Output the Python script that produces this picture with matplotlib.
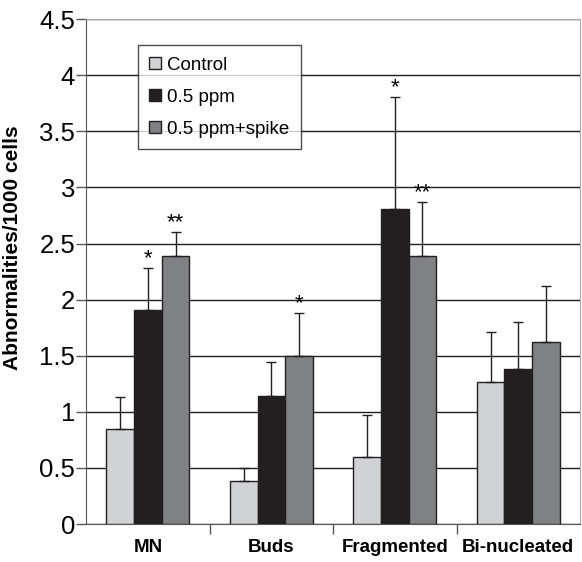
import numpy as np
import matplotlib.pyplot as plt

plt.rcParams['font.family'] = ['Liberation Sans', 'DejaVu Sans']

categories = ['MN', 'Buds', 'Fragmented', 'Bi-nucleated']
series = ['Control', '0.5 ppm', '0.5 ppm+spike']
control = [0.85, 0.38, 0.60, 1.27]
ppm = [1.91, 1.14, 2.81, 1.38]
spike = [2.39, 1.50, 2.39, 1.62]
control_err = [0.28, 0.12, 0.37, 0.44]
ppm_err = [0.37, 0.30, 1.00, 0.42]
spike_err = [0.21, 0.38, 0.48, 0.50]
control_sig = ['', '', '', '']
ppm_sig = ['*', '', '*', '']
spike_sig = ['**', '*', '**', '']

colors = ['#d1d2d4', '#231f20', '#808184']

fig = plt.figure(figsize=(5.82, 5.62), dpi=100)
ax = fig.add_axes([0.148, 0.0676, 0.8486, 0.8984])

x = np.arange(len(categories))
w = 0.224
data = [(control, control_err, control_sig),
        (ppm, ppm_err, ppm_sig),
        (spike, spike_err, spike_sig)]

for i, (vals, errs, sig) in enumerate(data):
    pos = x + (i - 1) * w
    ax.bar(pos, vals, w, color=colors[i], edgecolor='#231f20', linewidth=1.0,
           label=series[i], zorder=3)
    ax.errorbar(pos, vals, yerr=[np.zeros(len(vals)), errs], fmt='none',
                ecolor='#231f20', elinewidth=1.0, capsize=3.7, capthick=1.0, zorder=4)
    for p, v, e, s in zip(pos, vals, errs, sig):
        if s:
            ax.annotate(s, (p, v + e), xytext=(0, -1), textcoords='offset points',
                        ha='center', va='bottom', fontsize=16)

ax.set_xlim(-0.5, 3.5)
ax.set_ylim(0, 4.5)
ax.set_yticks(np.arange(0, 4.51, 0.5))
ax.set_yticklabels(['0', '0.5', '1', '1.5', '2', '2.5', '3', '3.5', '4', '4.5'])
ax.yaxis.grid(True, color='#231f20', linewidth=1.0, zorder=0)
ax.tick_params(axis='y', labelsize=18.5, length=7, width=1, color='#555555', pad=1)

ax.set_xticks([0.5, 1.5, 2.5], minor=False)
ax.set_xticklabels([])
ax.set_xticks(x, minor=True)
ax.set_xticklabels(categories, minor=True, fontweight='bold', fontsize=13.5)
ax.tick_params(axis='x', which='major', length=7, width=1, color='#555555')
ax.tick_params(axis='x', which='minor', length=0, pad=11)

for side in ['left', 'bottom']:
    ax.spines[side].set_color('#555555')
for side in ['top', 'right']:
    ax.spines[side].set_color('#aaaaaa')

ax.set_ylabel('Abnormalities/1000 cells', fontweight='bold', fontsize=15)
ax.yaxis.set_label_coords(-0.13, 0.547)

leg = ax.legend(loc='upper left', bbox_to_anchor=(0.105, 0.948), fontsize=13.5,
                frameon=True, fancybox=False, edgecolor='#231f20',
                handlelength=0.65, handleheight=0.65, handletextpad=0.3,
                labelspacing=0.8, borderpad=0.6, borderaxespad=0)
leg.get_frame().set_linewidth(1.0)

fig.savefig('out.png', dpi=100)
